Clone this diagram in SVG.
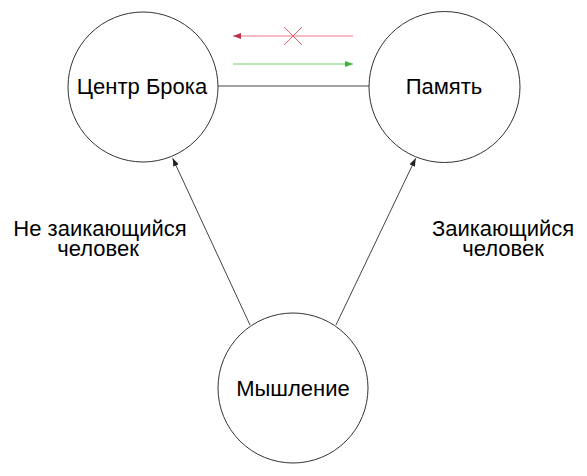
<svg xmlns="http://www.w3.org/2000/svg" width="587" height="476" viewBox="0 0 587 476">
<style>
.node{fill:#fff;stroke:#333;stroke-width:1}
.lbl{font-family:"Liberation Sans",Arial,sans-serif;font-size:22px;fill:#000;text-anchor:middle}
.edge{stroke:#444;stroke-width:1;fill:none}
</style>
<defs>
<marker id="ah" viewBox="0 0 8 6" refX="8" refY="3" markerWidth="8" markerHeight="6" markerUnits="userSpaceOnUse" orient="auto">
<path d="M0,0 L8,3 L0,6 Z" fill="#222"/>
</marker>
<marker id="ahr" viewBox="0 0 8 6" refX="8" refY="3" markerWidth="8" markerHeight="6" markerUnits="userSpaceOnUse" orient="auto">
<path d="M0,0 L8,3 L0,6 Z" fill="#c0304a"/>
</marker>
<marker id="ahg" viewBox="0 0 8 6" refX="8" refY="3" markerWidth="8" markerHeight="6" markerUnits="userSpaceOnUse" orient="auto">
<path d="M0,0 L8,3 L0,6 Z" fill="#3cb43c"/>
</marker>
</defs>
<rect width="587" height="476" fill="#fff"/>
<g id="connectors">
<line class="edge" x1="218" y1="86" x2="369" y2="86"/>
<line x1="353" y1="36" x2="233" y2="36" stroke="#ec7a86" stroke-width="1" marker-end="url(#ahr)"/>
<path d="M284,27 L302,45 M302,27 L284,45" stroke="#e0606e" stroke-width="1" fill="none"/>
<line x1="233" y1="64" x2="353" y2="64" stroke="#6ad46a" stroke-width="1" marker-end="url(#ahg)"/>
<line class="edge" x1="250" y1="325" x2="172.7" y2="158.3" marker-end="url(#ah)"/>
<line class="edge" x1="336" y1="325" x2="415.7" y2="158.3" marker-end="url(#ah)"/>
</g>
<g id="broca">
<circle class="node" cx="143" cy="87" r="75"/>
<text class="lbl" x="142" y="94">Центр Брока</text>
</g>
<g id="memory">
<circle class="node" cx="444.5" cy="87" r="75.5"/>
<text class="lbl" x="444" y="94">Память</text>
</g>
<g id="thinking">
<circle class="node" cx="293" cy="388" r="75"/>
<text class="lbl" x="293" y="396">Мышление</text>
</g>
<g id="label-left">
<text class="lbl" x="100" y="236">Не заикающийся</text>
<text class="lbl" x="98" y="256">человек</text>
</g>
<g id="label-right">
<text class="lbl" x="503" y="236">Заикающийся</text>
<text class="lbl" x="503" y="256">человек</text>
</g>
</svg>
